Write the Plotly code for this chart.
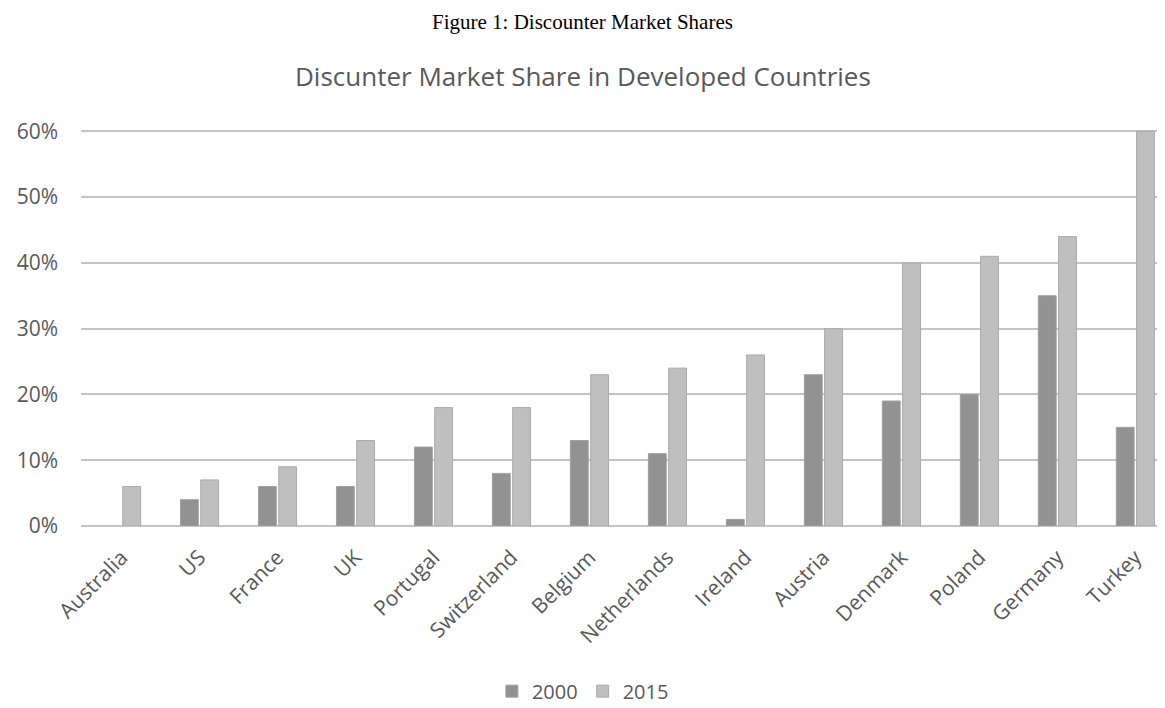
import plotly.graph_objects as go

countries = ["Australia", "US", "France", "UK", "Portugal", "Switzerland", "Belgium",
             "Netherlands", "Ireland", "Austria", "Denmark", "Poland", "Germany", "Turkey"]
share_2000 = [None, 4, 6, 6, 12, 8, 13, 11, 1, 23, 19, 20, 35, 15]
share_2015 = [6, 7, 9, 13, 18, 18, 23, 24, 26, 30, 40, 41, 44, 60]
y_ticks = [0, 10, 20, 30, 40, 50, 60]
y_tick_text = [f"{v}%" for v in y_ticks]

FONT = "Open Sans"
TXT = "#595959"

fig = go.Figure()
fig.add_trace(go.Bar(x=countries, y=share_2000, name="2000",
                     marker=dict(color="#929292", line=dict(color="#a0a0a0", width=1))))
fig.add_trace(go.Bar(x=countries, y=share_2015, name="2015",
                     marker=dict(color="#bfbfbf", line=dict(color="#aaaaaa", width=1))))

fig.update_layout(
    width=1157, height=700,
    margin=dict(l=73, r=0, t=122, b=182, autoexpand=False),
    paper_bgcolor="white", plot_bgcolor="white",
    barmode="group", bargap=0.48, bargroupgap=0.12,
    font=dict(family=FONT, color=TXT, size=19),
    showlegend=True,
    legend=dict(orientation="h", x=0.463, xanchor="center", y=-0.417, yanchor="middle",
                font=dict(size=20, color=TXT), itemwidth=30, traceorder="normal"),
    annotations=[
        dict(text="Figure 1: Discounter Market Shares", xref="paper", yref="paper",
             x=0.463, y=1.273, xanchor="center", yanchor="middle", showarrow=False,
             font=dict(family="Liberation Serif", size=21, color="black")),
        dict(text="Discunter Market Share in Developed Countries", xref="paper", yref="paper",
             x=0.463, y=1.136, xanchor="center", yanchor="middle", showarrow=False,
             font=dict(family=FONT, size=26, color=TXT)),
    ],
)
fig.update_xaxes(range=[-0.52, 13.38], tickangle=-45, showgrid=False, showline=False,
                 ticks="", automargin=False, ticklabelstandoff=14,
                 tickfont=dict(size=21, color=TXT))
fig.update_yaxes(range=[0, 60.2], tickvals=y_ticks, ticktext=y_tick_text, showgrid=True,
                 gridcolor="#c4c4c4", gridwidth=2, zeroline=True, zerolinecolor="#c4c4c4",
                 zerolinewidth=2, ticks="", ticklabelstandoff=22, automargin=False,
                 tickfont=dict(size=21, color=TXT))

fig.write_html("out.html")
